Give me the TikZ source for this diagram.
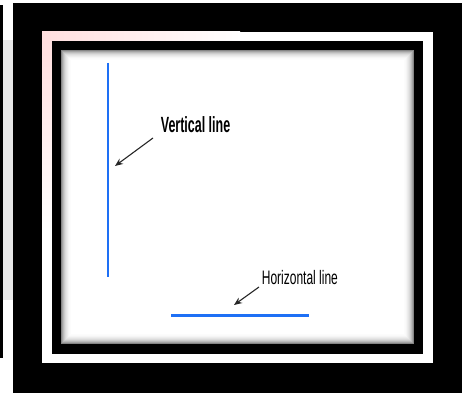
\documentclass[tikz,border=0pt]{standalone}
\usepackage{fontspec}
\usepackage{graphicx}
\setmainfont{Liberation Sans}
\usetikzlibrary{arrows.meta}
\definecolor{lineblue}{RGB}{30,112,245}
\definecolor{tint}{RGB}{255,222,222}
\tikzset{
  blueline/.style={draw=lineblue, line cap=butt},
  pointer/.style={draw=black!85, line width=1.1pt,
    -{Stealth[length=8pt,width=6.5pt]}},
  label/.style={inner sep=0pt, anchor=base west, text=black}
}
\begin{document}
\begin{tikzpicture}[x=1pt,y=-1pt]
  \useasboundingbox (0,0) rectangle (469,393);
  \fill[white] (0,0) rectangle (469,393);
  % faint background tint and strip on the left
  \fill[black!9] (3,40) rectangle (13,300);
  \fill[black] (0,5) rectangle (3,358);
  % outer frame
  \fill[black] (13,3) rectangle (462,393);
  \fill[white] (42,32) rectangle (433,363);
  \shade[left color=tint, right color=white] (42,32) rectangle (240,41);
  \shade[top color=tint, bottom color=white] (42,41) rectangle (52,230);
  % inner frame
  \fill[black] (52,41) rectangle (423,354);
  \fill[white] (61,50) rectangle (414,344);
  % inner shadow of the drawing area
  \foreach \v [count=\i from 0] in {48,36,27,20,14,10,7,4,2,1}{
    \draw[black!\v, line width=1pt]
      (61.5+\i,50.5+\i) rectangle (413.5-\i,343.5-\i);
  }
  % the two sample lines
  \coordinate (vtop) at (108,63);
  \coordinate (vbot) at (108,277);
  \draw[blueline, line width=2pt] (vtop) -- (vbot);
  \coordinate (hleft) at (171,315);
  \coordinate (hright) at (309,315);
  \draw[blueline, line width=3pt] (hleft) -- (hright);
  % labels
  \node[label] (vlabel) at (160.7,132.7)
    {\scalebox{0.567}[1]{\fontsize{22}{26}\selectfont\bfseries Vertical line}};
  \node[label] (hlabel) at (261.7,284)
    {\scalebox{0.615}[1]{\fontsize{19.5}{23}\selectfont Horizontal line}};
  % pointers
  \coordinate (vtail) at (153,138);
  \coordinate (vtip) at (115,166);
  \coordinate (htail) at (259,287);
  \coordinate (htip) at (234,305);
  \draw[pointer] (vtail) -- (vtip);
  \draw[pointer] (htail) -- (htip);
\end{tikzpicture}
\end{document}
